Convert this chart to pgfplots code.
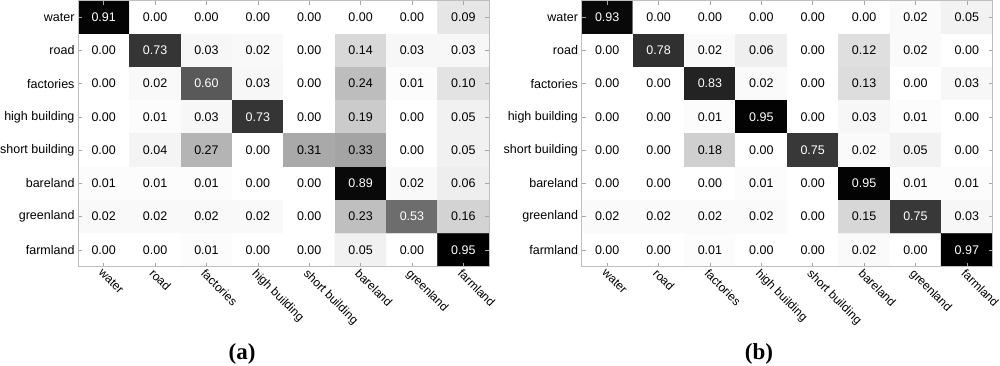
\documentclass[border=0pt]{standalone}
\usepackage{pgfplots}
\usepackage{pgfplotstable}
\pgfplotsset{compat=1.18}
\usepackage{fontspec}
\setmainfont{Liberation Sans}
\newfontfamily\serifb{Liberation Serif}

\pgfplotstableread{
x y c
0 0 0.91
1 0 0.00
2 0 0.00
3 0 0.00
4 0 0.00
5 0 0.00
6 0 0.00
7 0 0.09
0 1 0.00
1 1 0.73
2 1 0.03
3 1 0.02
4 1 0.00
5 1 0.14
6 1 0.03
7 1 0.03
0 2 0.00
1 2 0.02
2 2 0.60
3 2 0.03
4 2 0.00
5 2 0.24
6 2 0.01
7 2 0.10
0 3 0.00
1 3 0.01
2 3 0.03
3 3 0.73
4 3 0.00
5 3 0.19
6 3 0.00
7 3 0.05
0 4 0.00
1 4 0.04
2 4 0.27
3 4 0.00
4 4 0.31
5 4 0.33
6 4 0.00
7 4 0.05
0 5 0.01
1 5 0.01
2 5 0.01
3 5 0.00
4 5 0.00
5 5 0.89
6 5 0.02
7 5 0.06
0 6 0.02
1 6 0.02
2 6 0.02
3 6 0.02
4 6 0.00
5 6 0.23
6 6 0.53
7 6 0.16
0 7 0.00
1 7 0.00
2 7 0.01
3 7 0.00
4 7 0.00
5 7 0.05
6 7 0.00
7 7 0.95
}\tabA

\pgfplotstableread{
x y c
0 0 0.93
1 0 0.00
2 0 0.00
3 0 0.00
4 0 0.00
5 0 0.00
6 0 0.02
7 0 0.05
0 1 0.00
1 1 0.78
2 1 0.02
3 1 0.06
4 1 0.00
5 1 0.12
6 1 0.02
7 1 0.00
0 2 0.00
1 2 0.00
2 2 0.83
3 2 0.02
4 2 0.00
5 2 0.13
6 2 0.00
7 2 0.03
0 3 0.00
1 3 0.00
2 3 0.01
3 3 0.95
4 3 0.00
5 3 0.03
6 3 0.01
7 3 0.00
0 4 0.00
1 4 0.00
2 4 0.18
3 4 0.00
4 4 0.75
5 4 0.02
6 4 0.05
7 4 0.00
0 5 0.00
1 5 0.00
2 5 0.00
3 5 0.01
4 5 0.00
5 5 0.95
6 5 0.01
7 5 0.01
0 6 0.02
1 6 0.02
2 6 0.02
3 6 0.02
4 6 0.00
5 6 0.15
6 6 0.75
7 6 0.03
0 7 0.00
1 7 0.00
2 7 0.01
3 7 0.00
4 7 0.00
5 7 0.02
6 7 0.00
7 7 0.97
}\tabB

\pgfplotsset{
  cm/.style={
    scale only axis, width=411pt, height=266pt,
    xmin=-0.5, xmax=7.5, ymin=-0.5, ymax=7.5, y dir=reverse,
    enlargelimits=false, axis on top,
    colormap={bw}{rgb255=(255,255,255) rgb255=(0,0,0)},
    point meta min=0,
    xtick={0,...,7}, ytick={0,...,7},
    xticklabels={water,road,factories,high building,short building,bareland,greenland,farmland},
    yticklabels={water,road,factories,high building,short building,bareland,greenland,farmland},
    x tick label style={rotate=-45, anchor=north west, font=\fontsize{12}{14}\selectfont, inner sep=1pt},
    y tick label style={font=\fontsize{12.5}{14}\selectfont},
    tick align=inside, major tick length=4pt,
    tick style={gray!70, line width=0.6pt},
    axis line style={gray!50, line width=0.8pt},
    /pgf/number format/assume math mode=true,
  },
  cells/.style={
    matrix plot*, mesh/cols=8, point meta=explicit,
    visualization depends on={\thisrow{c} \as \cval},
    nodes near coords={\ifdim\cval pt>0.45pt\color{white}\fi\pgfmathprintnumber[fixed,zerofill,precision=2]{\pgfplotspointmeta}},
    nodes near coords style={anchor=center, font=\fontsize{12.5}{14}\selectfont, text=black},
  },
}

\begin{document}
\begin{tikzpicture}
\path[use as bounding box] (0,0) rectangle (1000pt,-366pt);
\begin{axis}[cm, at={(283.5pt,-133.5pt)}, anchor=center, point meta max=0.93]
\addplot[cells] table[x=x, y=y, meta=c] {\tabA};
\end{axis}
\begin{axis}[cm, at={(787pt,-133.5pt)}, anchor=center, point meta max=0.97]
\addplot[cells] table[x=x, y=y, meta=c] {\tabB};
\end{axis}
\node[font=\serifb\bfseries\fontsize{23}{26}\selectfont] at (242pt,-354pt) {(a)};
\node[font=\serifb\bfseries\fontsize{23}{26}\selectfont] at (759pt,-354pt) {(b)};
\end{tikzpicture}
\end{document}
